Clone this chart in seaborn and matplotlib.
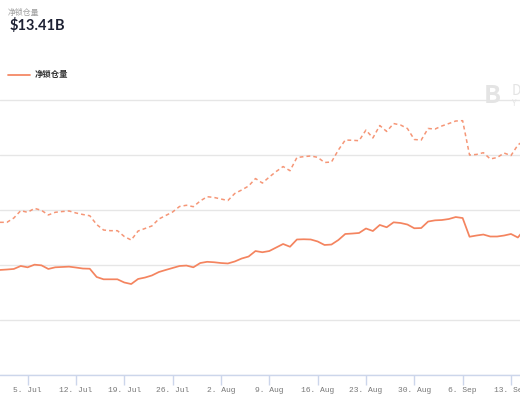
import numpy as np
import pandas as pd
import matplotlib
matplotlib.use('Agg')
import matplotlib.pyplot as plt
import matplotlib.dates as mdates
import seaborn as sns

# daily values (billions), starting 1 Jul
start = '2021-07-01'
net_locked = [9.55, 9.59, 9.64, 9.91, 9.79, 10.03, 9.97, 9.64, 9.79, 9.82,
              9.85, 9.77, 9.68, 9.66, 8.91, 8.70, 8.70, 8.70, 8.41, 8.27,
              8.73, 8.86, 9.05, 9.36, 9.55, 9.73, 9.91, 9.95, 9.79, 10.18,
              10.29, 10.25, 10.18, 10.14, 10.32, 10.59, 10.77, 11.27, 11.16, 11.27,
              11.59, 11.91, 11.66, 12.32, 12.34, 12.32, 12.14, 11.82, 11.86, 12.27,
              12.82, 12.86, 12.91, 13.32, 13.09, 13.64, 13.43, 13.88, 13.82, 13.68,
              13.34, 13.36, 13.95, 14.06, 14.09, 14.18, 14.36, 14.27, 12.57, 12.68,
              12.77, 12.59, 12.59, 12.68, 12.82, 12.50, 13.27, 13.41]
total_locked = [13.88, 13.88, 14.27, 14.94, 14.79, 15.15, 14.97, 14.55, 14.79, 14.86,
                14.91, 14.73, 14.59, 14.48, 13.68, 13.18, 13.12, 13.12, 12.59, 12.27,
                13.09, 13.32, 13.55, 14.18, 14.50, 14.82, 15.32, 15.43, 15.30, 15.82,
                16.21, 16.14, 16.00, 15.86, 16.50, 16.82, 17.18, 17.86, 17.45, 18.00,
                18.50, 18.95, 18.57, 19.77, 19.85, 19.91, 19.79, 19.32, 19.36, 20.45,
                21.36, 21.34, 21.30, 22.27, 21.55, 22.68, 22.14, 22.86, 22.73, 22.41,
                21.41, 21.36, 22.41, 22.36, 22.64, 22.86, 23.09, 23.12, 20.00, 20.05,
                20.21, 19.64, 19.77, 20.18, 19.95, 20.91, 21.36, 21.60]
tick_dates = ['2021-07-05', '2021-07-12', '2021-07-19', '2021-07-26', '2021-08-02',
              '2021-08-09', '2021-08-16', '2021-08-23', '2021-08-30', '2021-09-06',
              '2021-09-13']
title = '净锁仓量'
current = '$13.41B'

dates = pd.date_range(start, periods=len(net_locked), freq='D')
df = pd.DataFrame({'date': dates, 'net': net_locked, 'total': total_locked})

sns.set_theme(style='white')
plt.rcParams['font.family'] = ['Noto Sans CJK SC', 'DejaVu Sans']

color = '#f4845f'
fig = plt.figure(figsize=(5.2, 4), dpi=100)
ax = fig.add_axes([0, 25/400, 1, 280.5/400])

sns.lineplot(data=df, x='date', y='total', ax=ax, color=color, lw=1.1,
             linestyle=(0, (2.5, 2)), alpha=0.85)
sns.lineplot(data=df, x='date', y='net', ax=ax, color=color, lw=1.25)

x0 = pd.Timestamp(start)
ax.set_xlim(x0, x0 + pd.Timedelta(days=520/6.905))
ax.set_ylim(0, 25.5)
ax.set_yticks([0, 5, 10, 15, 20, 25])
ax.yaxis.grid(True, color='#e6e6e6', lw=1)
ax.set_axisbelow(True)
ax.set_yticklabels([])
ax.tick_params(axis='y', length=0)
ax.set_xlabel('')
ax.set_ylabel('')

ax.set_xticks(pd.to_datetime(tick_dates))
ax.xaxis.set_major_formatter(mdates.DateFormatter('%-d. %b'))
ax.tick_params(axis='x', direction='out', length=7, width=1, color='#ccd6eb',
               labelsize=5.8, labelcolor='#777777', pad=2, bottom=True)
for lab in ax.get_xticklabels():
    lab.set_family('Liberation Mono')

for side in ['top', 'left', 'right']:
    ax.spines[side].set_visible(False)
ax.spines['bottom'].set_color('#ccd6eb')
ax.spines['bottom'].set_linewidth(1)

# header
fig.text(8/520, 1 - 12/400, title, fontsize=5.7, color='#a0a0a0', va='center')
fig.text(10/520, 1 - 26/400, current, fontsize=10.5, color='#1d2133',
         fontweight='bold', family='Lato', va='center')

# legend
fig.add_artist(plt.Line2D([8/520, 30/520], [1 - 75/400, 1 - 75/400],
                          color=color, lw=1.25))
fig.text(35/520, 1 - 75/400, title, fontsize=6, color='#333333',
         fontweight='bold', va='center')

# watermark
fig.text(484/520, 1 - 96/400, 'B', fontsize=18, color='#e4e4e4',
         fontweight='bold', va='center')
fig.text(512/520, 1 - 91/400, 'D', fontsize=10, color='#e4e4e4', va='center')
fig.text(512/520, 1 - 104/400, 'Y', fontsize=6, color='#e4e4e4', va='center')

fig.savefig('out.png', dpi=100)
